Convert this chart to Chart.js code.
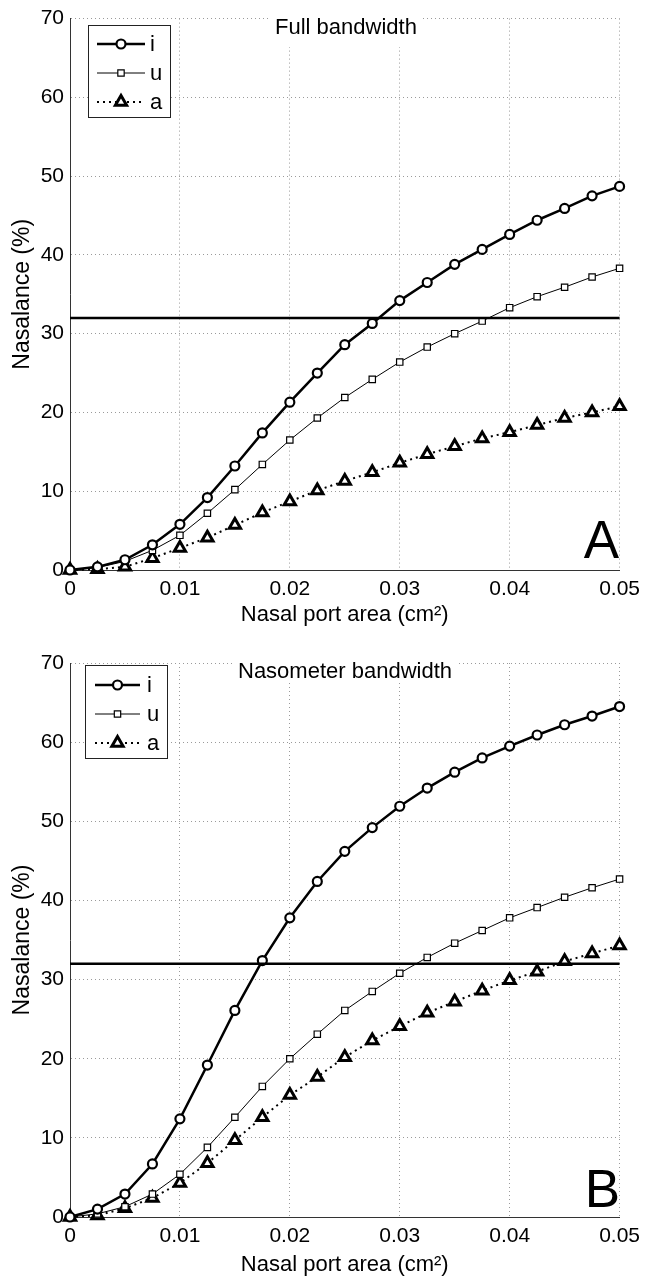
<!DOCTYPE html>
<html>
<head>
<meta charset="utf-8">
<script src="https://cdn.jsdelivr.net/npm/chart.js@4.4.1/dist/chart.umd.min.js"></script>
<style>
  html, body { margin: 0; padding: 0; background: #fff; }
  .panel { position: absolute; left: 0; width: 647px; height: 641px; }
</style>
</head>
<body>
<div class="panel" style="top:0"><canvas id="chartA" width="647" height="641"></canvas></div>
<div class="panel" style="top:641px"><canvas id="chartB" width="647" height="641"></canvas></div>
<script>
// nasal port area (cm^2)
const xValues = [0, 0.0025, 0.005, 0.0075, 0.01, 0.0125, 0.015, 0.0175, 0.02, 0.0225, 0.025,
  0.0275, 0.03, 0.0325, 0.035, 0.0375, 0.04, 0.0425, 0.045, 0.0475, 0.05];
const seriesNames = ["i", "u", "a"];

// panel A - full bandwidth
const iFull = [0, 0.4, 1.3, 3.2, 5.8, 9.2, 13.2, 17.4, 21.3, 25.0, 28.6, 31.3, 34.2, 36.5, 38.8, 40.7, 42.6, 44.4, 45.9, 47.5, 48.7];
const uFull = [0, 0.3, 1.1, 2.5, 4.4, 7.2, 10.2, 13.4, 16.5, 19.3, 21.9, 24.2, 26.4, 28.3, 30.0, 31.6, 33.3, 34.7, 35.9, 37.2, 38.3];
const aFull = [0, 0.1, 0.4, 1.5, 2.8, 4.1, 5.7, 7.3, 8.7, 10.1, 11.3, 12.4, 13.6, 14.7, 15.7, 16.7, 17.5, 18.4, 19.3, 20.0, 20.8];

// panel B - nasometer bandwidth
const iNaso = [0, 1.0, 2.9, 6.7, 12.4, 19.2, 26.1, 32.4, 37.8, 42.4, 46.2, 49.2, 51.9, 54.2, 56.2, 58.0, 59.5, 60.9, 62.2, 63.3, 64.5];
const uNaso = [0, 0.4, 1.3, 2.9, 5.4, 8.8, 12.6, 16.5, 20.0, 23.1, 26.1, 28.5, 30.8, 32.8, 34.6, 36.2, 37.8, 39.1, 40.4, 41.6, 42.7];
const aNaso = [0, 0.2, 1.1, 2.4, 4.3, 6.8, 9.7, 12.6, 15.4, 17.7, 20.2, 22.3, 24.1, 25.8, 27.2, 28.6, 29.9, 31.0, 32.3, 33.3, 34.3];

const threshold = 32;
const xMin = 0, xMax = 0.05, xStep = 0.01;
const yMin = 0, yMax = 70, yStep = 10;

const FONT = '"Liberation Sans", Arial, Helvetica, sans-serif';

const lineStyles = [
  { width: 2.5, dash: [], point: "circle", radius: 4.5, pointBorder: 2.2 },
  { width: 1, dash: [], point: "rect", radius: 4.5, pointBorder: 1.2 },
  { width: 2, dash: [2, 4], point: "triangle", radius: 6.5, pointBorder: 3 }
];

function drawMarker(ctx, style, x, y) {
  const opts = { pointStyle: style.point, radius: style.radius, borderWidth: style.pointBorder, rotation: 0 };
  ctx.save();
  ctx.fillStyle = "#fff";
  ctx.strokeStyle = "#000";
  ctx.lineWidth = style.pointBorder;
  ctx.setLineDash([]);
  Chart.helpers.drawPoint(ctx, opts, x, y);
  ctx.restore();
}

const panelDecor = {
  id: "panelDecor",
  beforeDatasetsDraw(chart, args, opts) {
    const ctx = chart.ctx;
    ctx.save();
    ctx.fillStyle = "#fff";
    ctx.fillRect(opts.titleBg[0], opts.titleBg[1], opts.titleBg[2], opts.titleBg[3]);
    ctx.restore();
  },
  afterDraw(chart, args, opts) {
    const ctx = chart.ctx;
    ctx.save();
    // title inside the axes
    ctx.fillStyle = "#000";
    ctx.font = "22px " + FONT;
    ctx.textAlign = "left";
    ctx.textBaseline = "alphabetic";
    ctx.fillText(opts.title, opts.titleX, opts.titleY);

    // legend box
    const b = opts.legendBox;
    ctx.fillStyle = "#fff";
    ctx.fillRect(b[0], b[1], b[2], b[3]);
    ctx.strokeStyle = "#222";
    ctx.lineWidth = 1;
    ctx.strokeRect(b[0] + 0.5, b[1] + 0.5, b[2], b[3]);
    seriesNames.forEach((name, k) => {
      const st = lineStyles[k];
      const y = opts.legendRows[k];
      ctx.save();
      ctx.strokeStyle = "#000";
      ctx.lineWidth = st.width;
      ctx.setLineDash(st.dash);
      ctx.beginPath();
      ctx.moveTo(opts.legendLine[0], y);
      ctx.lineTo(opts.legendLine[1], y);
      ctx.stroke();
      ctx.restore();
      drawMarker(ctx, st, (opts.legendLine[0] + opts.legendLine[1]) / 2, y);
      ctx.fillStyle = "#000";
      ctx.font = "22px " + FONT;
      ctx.textBaseline = "middle";
      ctx.fillText(name, opts.legendText, y + 1);
    });

    // panel letter
    ctx.font = "53px " + FONT;
    ctx.textAlign = "right";
    ctx.textBaseline = "alphabetic";
    ctx.fillStyle = "#000";
    ctx.fillText(opts.letter, opts.letterX, opts.letterY);
    ctx.restore();
  }
};

function makePanel(id, series, deco, geom) {
  const toPts = arr => arr.map((v, k) => ({ x: xValues[k], y: v }));
  const datasets = series.map((arr, k) => {
    const st = lineStyles[k];
    return {
      label: seriesNames[k],
      data: toPts(arr),
      borderColor: "#000",
      borderWidth: st.width,
      borderDash: st.dash,
      pointStyle: st.point,
      pointRadius: st.radius,
      pointBorderWidth: st.pointBorder,
      pointBorderColor: "#000",
      pointBackgroundColor: "#fff",
      tension: 0,
      clip: false
    };
  });
  datasets.unshift({
    label: "threshold",
    data: [{ x: xMin, y: threshold }, { x: xMax, y: threshold }],
    borderColor: "#000",
    borderWidth: 2.5,
    pointRadius: 0,
    clip: false
  });

  new Chart(document.getElementById(id), {
    type: "line",
    data: { datasets },
    options: {
      responsive: false,
      animation: false,
      events: [],
      layout: { padding: { top: geom.top, right: 24, left: 0, bottom: 0 } },
      plugins: {
        legend: { display: false },
        tooltip: { enabled: false },
        panelDecor: deco
      },
      scales: {
        x: {
          type: "linear",
          min: xMin,
          max: xMax,
          afterFit: s => { s.height = geom.xHeight; },
          ticks: {
            stepSize: xStep,
            padding: 7,
            maxRotation: 0,
            color: "#000",
            font: { family: FONT, size: 21 },
            callback: v => (Math.abs(v) < 1e-9 ? "0" : v.toFixed(2))
          },
          grid: { color: "#9a9a9a", lineWidth: 1, drawTicks: false, borderDash: [1, 3] },
          border: { display: true, color: "#333", width: 1, dash: [1, 3] },
          title: {
            display: true,
            text: "Nasal port area (cm²)",
            color: "#000",
            font: { family: FONT, size: 22 },
            padding: { top: 0, bottom: geom.xTitlePad }
          }
        },
        y: {
          min: yMin,
          max: yMax,
          afterFit: s => { s.width = 70; },
          ticks: {
            stepSize: yStep,
            padding: 6,
            color: "#000",
            font: { family: FONT, size: 21 }
          },
          grid: { color: "#9a9a9a", lineWidth: 1, drawTicks: false, borderDash: [1, 3] },
          border: { display: true, color: "#333", width: 1, dash: [1, 3] },
          title: {
            display: true,
            text: "Nasalance (%)",
            color: "#000",
            font: { family: FONT, size: 23 },
            padding: { top: 9, bottom: 0 }
          }
        }
      }
    },
    plugins: [panelDecor]
  });
}

makePanel("chartA", [iFull, uFull, aFull], {
  title: "Full bandwidth", titleX: 275, titleY: 34, titleBg: [270, 15, 152, 32],
  legendBox: [88, 25, 82, 92], legendRows: [44, 73, 102], legendLine: [97, 145], legendText: 150,
  letter: "A", letterX: 619, letterY: 558
}, { top: 17, xHeight: 71, xTitlePad: 13 });

makePanel("chartB", [iNaso, uNaso, aNaso], {
  title: "Nasometer bandwidth", titleX: 238, titleY: 37, titleBg: [232, 18, 225, 24],
  legendBox: [85, 24, 82, 93], legendRows: [44, 73, 102], legendLine: [95, 140], legendText: 147,
  letter: "B", letterX: 620, letterY: 566
}, { top: 22, xHeight: 65, xTitlePad: 4 });
</script>
</body>
</html>
